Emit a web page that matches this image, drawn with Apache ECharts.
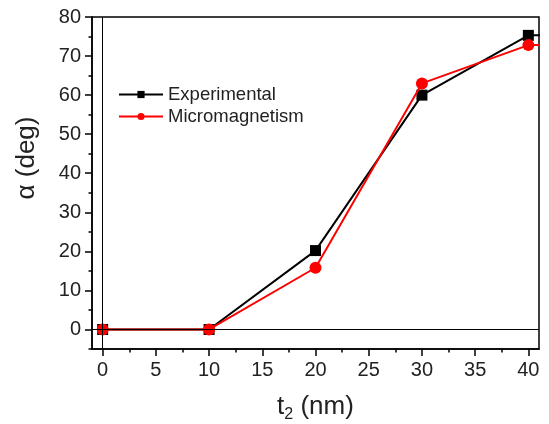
<!DOCTYPE html>
<html>
<head>
<meta charset="utf-8">
<script src="https://cdn.jsdelivr.net/npm/echarts@6/dist/echarts.min.js"></script>
<style>
html, body { margin: 0; padding: 0; background: #fff; }
#chart { width: 549px; height: 424px; }
</style>
</head>
<body>
<div id="chart"></div>
<script>
// thickness values (nm)
var thickness = [0, 10, 20, 30, 40, 50];
// measured tilt angle
var experimental = [0, 0, 20.2, 60, 75.3, 75.6];
// simulated tilt angle
var micromagnetism = [0, 0, 15.8, 63, 72.8, 73];
// tick values
var xMajor = [0, 5, 10, 15, 20, 25, 30, 35, 40];
var xMinor = [2.5, 7.5, 12.5, 17.5, 22.5, 27.5, 32.5, 37.5];
var yMajor = [0, 10, 20, 30, 40, 50, 60, 70, 80];
var yMinor = [-5, 5, 15, 25, 35, 45, 55, 65, 75];

var pairs = function(ys) {
	var out = [];
	for (var i = 0; i < thickness.length; i++) {
		out.push([thickness[i], ys[i]]);
	}
	return out;
};

var font = 'Liberation Sans, Arial, sans-serif';
var chart = echarts.init(document.getElementById('chart'));

var option = {
	animation: false,
	textStyle: { fontFamily: font },
	grid: {
		left: 92,
		right: 10,
		top: 17,
		bottom: 75,
		outerBoundsMode: 'none',
		containLabel: false,
		show: true,
		borderColor: '#000',
		borderWidth: 1.5
	},
	legend: {
		orient: 'vertical',
		left: 113,
		top: 80,
		itemWidth: 44,
		itemHeight: 9,
		itemGap: 3,
		textStyle: { fontSize: 18.5, color: '#222', fontFamily: font },
		data: ['Experimental', 'Micromagnetism']
	},
	xAxis: [{
		type: 'value',
		min: -1,
		max: 41,
		position: 'bottom',
		name: '{t|t}{s|2}{t| (nm)}',
		nameLocation: 'middle',
		nameGap: 42,
		nameTextStyle: {
			rich: {
				t: { fontSize: 26, color: '#222', fontFamily: font },
				s: { fontSize: 16, color: '#222', fontFamily: font, verticalAlign: 'bottom', padding: [16, 0, 0, 0] }
			}
		},
		axisLine: { show: true, onZero: false, lineStyle: { color: '#000', width: 1.5 } },
		axisTick: { show: true, inside: false, length: 7, customValues: xMajor, lineStyle: { color: '#000', width: 1.5 } },
		axisLabel: { customValues: xMajor, fontSize: 20, color: '#222', margin: 11, fontFamily: font },
		splitLine: { show: false }
	}, {
		type: 'value',
		min: -1,
		max: 41,
		position: 'bottom',
		axisLine: { show: false, onZero: false },
		axisTick: { show: true, inside: false, length: 3.5, customValues: xMinor, lineStyle: { color: '#000', width: 1.5 } },
		axisLabel: { show: false },
		splitLine: { show: false }
	}],
	yAxis: [{
		type: 'value',
		min: -5,
		max: 80,
		position: 'left',
		name: 'α (deg)',
		nameLocation: 'middle',
		nameGap: 52,
		nameTextStyle: { fontSize: 26, color: '#222', fontFamily: font, padding: [0, 0, 0, 50] },
		axisLine: { show: true, onZero: false, lineStyle: { color: '#000', width: 1.5 } },
		axisTick: { show: true, inside: false, length: 7, customValues: yMajor, lineStyle: { color: '#000', width: 1.5 } },
		axisLabel: { customValues: yMajor, fontSize: 20, color: '#222', margin: 11, fontFamily: font },
		splitLine: { show: false }
	}, {
		type: 'value',
		min: -5,
		max: 80,
		position: 'left',
		axisLine: { show: false, onZero: false },
		axisTick: { show: true, inside: false, length: 3.5, customValues: yMinor, lineStyle: { color: '#000', width: 1.5 } },
		axisLabel: { show: false },
		splitLine: { show: false }
	}],
	series: [{
		name: 'Experimental',
		type: 'line',
		data: pairs(experimental),
		symbol: 'rect',
		symbolSize: 11,
		clip: true,
		z: 2,
		itemStyle: { color: '#000' },
		lineStyle: { color: '#000', width: 2 },
		markLine: {
			silent: true,
			symbol: 'none',
			label: { show: false },
			lineStyle: { color: '#000', width: 1, type: 'solid' },
			data: [{ yAxis: 0 }, { xAxis: 0 }]
		}
	}, {
		name: 'Micromagnetism',
		type: 'line',
		data: pairs(micromagnetism),
		symbol: 'circle',
		symbolSize: 12,
		clip: true,
		z: 3,
		itemStyle: { color: '#ff0000' },
		lineStyle: { color: '#ff0000', width: 2 }
	}]
};

chart.setOption(option);
</script>
</body>
</html>
